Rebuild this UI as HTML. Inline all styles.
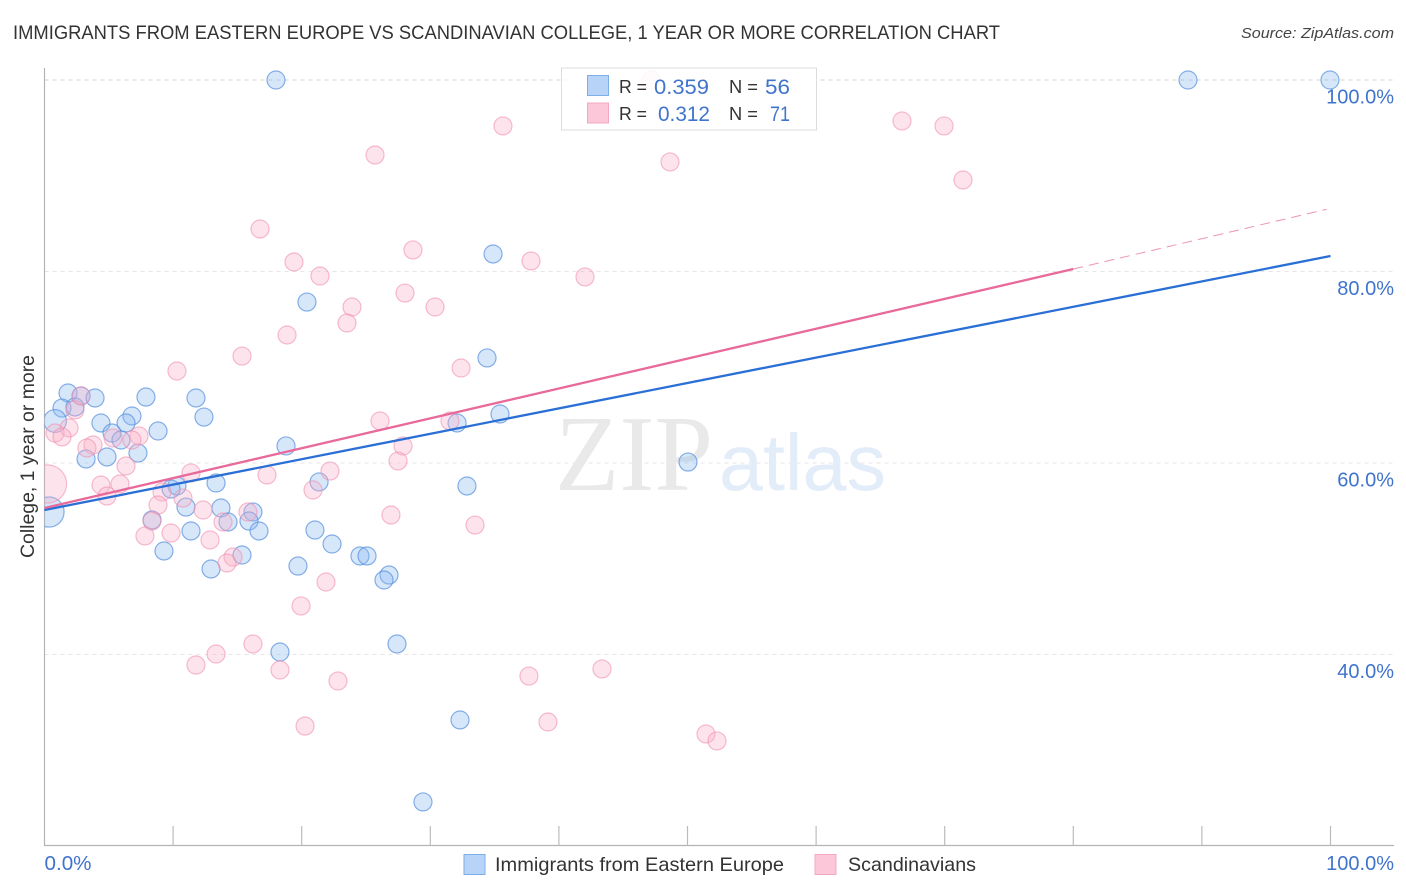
<!DOCTYPE html>
<html lang="en">
<head>
<meta charset="utf-8">
<title>Immigrants from Eastern Europe vs Scandinavian College Correlation Chart</title>
<style>
html,body{margin:0;padding:0;background:#fff;}
body{width:1406px;height:892px;overflow:hidden;}
svg{display:block;font-family:"Liberation Sans",sans-serif;}
</style>
</head>
<body>
<svg id="chart" xmlns="http://www.w3.org/2000/svg" width="1406" height="892" viewBox="0 0 1406 892">
  <defs>
    <clipPath id="plot-clip"><rect x="44.5" y="60" width="1350" height="785"/></clipPath>
  </defs>
  <rect x="0" y="0" width="1406" height="892" fill="#fff"/>
  <text x="13" y="39" font-size="19.5" fill="#333" textLength="987" lengthAdjust="spacingAndGlyphs">IMMIGRANTS FROM EASTERN EUROPE VS SCANDINAVIAN COLLEGE, 1 YEAR OR MORE CORRELATION CHART</text>
  <text x="1241" y="38" font-size="15" font-style="italic" fill="#444" textLength="153" lengthAdjust="spacingAndGlyphs">Source: ZipAtlas.com</text>
  <text transform="translate(34,558) rotate(-90)" font-size="19" fill="#333" textLength="203" lengthAdjust="spacingAndGlyphs">College, 1 year or more</text>

  <g id="grid"></g>

  <g>
    <text x="555" y="490" font-family="'Liberation Serif',serif" font-size="108" fill="#e9e9e9" textLength="158" lengthAdjust="spacingAndGlyphs">ZIP</text>
    <text x="719" y="490" font-size="80" fill="#e3ecf9" textLength="167" lengthAdjust="spacingAndGlyphs">atlas</text>
  </g>

  <g id="axes"></g>
  <g id="points" clip-path="url(#plot-clip)"></g>
  <g id="lines"></g>
  <g id="tick-labels"></g>

  <g>
    <rect x="561.5" y="68" width="255" height="62" fill="#fff" fill-opacity="0.85" stroke="#dcdcdc" stroke-width="1"/>
    <rect x="587.5" y="75.5" width="21" height="20" fill="#b7d4f8" stroke="#7eaee8" stroke-width="1"/>
    <rect x="587.5" y="103" width="21" height="20" fill="#fcc8d9" stroke="#f4a8c0" stroke-width="1"/>
    <text x="619" y="93" font-size="18.5" fill="#333" textLength="28" lengthAdjust="spacingAndGlyphs">R =</text>
    <text x="654" y="94" font-size="21" fill="#4074cc" textLength="55" lengthAdjust="spacingAndGlyphs">0.359</text>
    <text x="729" y="93" font-size="18.5" fill="#333" textLength="29" lengthAdjust="spacingAndGlyphs">N =</text>
    <text x="765" y="94" font-size="21" fill="#4074cc" textLength="25" lengthAdjust="spacingAndGlyphs">56</text>
    <text x="619" y="120" font-size="18.5" fill="#333" textLength="28" lengthAdjust="spacingAndGlyphs">R =</text>
    <text x="658" y="121" font-size="21" fill="#4074cc" textLength="52" lengthAdjust="spacingAndGlyphs">0.312</text>
    <text x="729" y="120" font-size="18.5" fill="#333" textLength="29" lengthAdjust="spacingAndGlyphs">N =</text>
    <text x="770" y="121" font-size="21" fill="#4074cc" textLength="20" lengthAdjust="spacingAndGlyphs">71</text>
  </g>

  <g>
    <rect x="464" y="854.5" width="21" height="20" fill="#b7d4f8" stroke="#7eaee8" stroke-width="1"/>
    <text x="495" y="871" font-size="19.5" fill="#333" textLength="289" lengthAdjust="spacingAndGlyphs">Immigrants from Eastern Europe</text>
    <rect x="815" y="854.5" width="21" height="20" fill="#fcc8d9" stroke="#f4a8c0" stroke-width="1"/>
    <text x="848" y="871" font-size="19.5" fill="#333" textLength="128" lengthAdjust="spacingAndGlyphs">Scandinavians</text>
  </g>
</svg>

<script>
var xTickValues = [0, 10, 20, 30, 40, 50, 60, 70, 80, 90, 100];
var yGridValues = [100, 80, 60, 40];
var yTickLabels = ["100.0%", "80.0%", "60.0%", "40.0%"];
var xEndLabels = ["0.0%", "100.0%"];

var blueX = [18.00,88.92,99.96,34.88,20.41,34.41,1.83,2.84,3.93,7.89,11.78,1.36,2.37,0.82,6.80,12.40,35.42,4.39,6.34,32.08,8.83,5.25,5.95,18.78,7.27,4.86,3.23,50.04,21.35,13.34,10.30,9.84,32.85,11.00,13.72,16.21,14.27,8.36,15.90,11.39,21.03,16.68,22.36,9.29,15.36,24.53,25.08,19.71,12.95,26.79,26.40,27.41,18.31,32.31,29.43,0.35];
var blueY = [100,100,100,81.83,76.81,70.97,67.31,67.00,66.79,66.89,66.79,65.74,65.85,64.39,64.91,64.80,65.12,64.18,64.18,64.18,63.34,63.13,62.40,61.78,61.04,60.63,60.42,60.10,58.02,57.91,57.60,57.28,57.60,55.40,55.30,54.88,53.84,54.05,53.94,52.90,53.00,52.90,51.54,50.81,50.39,50.29,50.29,49.24,48.93,48.30,47.78,41.10,40.26,33.16,24.60,54.88];
var blueWeight = [1,1,1,1,1,1,1,1,1,1,1,1,1,1.6,1,1,1,1,1,1,1,1,1,1,1,1,1,1,1,1,1,1,1,1,1,1,1,1,1,1,1,1,1,1,1,1,1,1,1,1,1,1,1,1,1,2.8];

var pinkX = [47.16,35.65,66.68,69.95,25.70,48.64,71.42,16.76,28.65,19.40,37.83,21.42,42.03,28.03,23.91,30.37,23.52,18.86,15.36,10.30,32.39,2.84,2.37,1.91,0.82,1.36,5.33,7.35,6.80,3.77,3.30,6.34,4.39,5.87,4.86,0.23,11.39,17.30,22.20,27.49,27.88,20.88,9.14,10.77,8.83,12.33,15.82,8.36,13.88,7.81,9.84,12.87,26.94,14.66,14.19,21.89,19.95,33.48,26.09,31.53,16.21,13.34,11.78,18.31,22.82,37.67,43.35,20.26,39.15,51.44,52.29];
var pinkY = [100,95.20,95.72,95.20,92.17,91.44,89.56,84.44,82.25,80.99,81.10,79.53,79.43,77.75,76.29,76.29,74.62,73.37,71.17,69.61,69.92,67.00,65.54,63.66,63.13,62.72,62.61,62.82,62.40,61.88,61.57,59.69,57.70,57.81,56.55,57.81,58.96,58.75,59.16,60.21,61.78,57.18,56.97,56.34,55.61,55.09,54.88,53.94,53.84,52.38,52.69,51.96,54.57,50.18,49.56,47.57,45.07,53.52,64.39,64.39,41.10,40.05,38.90,38.38,37.23,37.75,38.49,32.53,32.95,31.70,30.97];
var pinkWeight = [1,1,1,1,1,1,1,1,1,1,1,1,1,1,1,1,1,1,1,1,1,1,1,1,1,1,1,1,1,1,1,1,1,1,1,4.5,1,1,1,1,1,1,1,1,1,1,1,1,1,1,1,1,1,1,1,1,1,1,1,1,1,1,1,1,1,1,1,1,1,1,1];

var blueTrendX = [0, 100];
var blueTrendY = [55.09, 81.62];
var pinkTrendX = [0, 80];
var pinkTrendY = [55.30, 80.26];
var pinkForecastX = [80, 99.7];
var pinkForecastY = [80.26, 86.5];

var NS = "http://www.w3.org/2000/svg";

function xScale(v) { return 44.5 + v * 12.86; }
function yScale(v) { return 80 + (100 - v) * 9.575; }
function rScale(w) { return 9 * Math.sqrt(w); }

function make(tag, parent, attrs) {
  var el = document.createElementNS(NS, tag);
  for (var k in attrs) { el.setAttribute(k, attrs[k]); }
  parent.appendChild(el);
  return el;
}

var gridG = document.getElementById("grid");
yGridValues.forEach(function (v, i) {
  var line = make("line", gridG, {
    x1: 44.5, x2: 1394, y1: yScale(v), y2: yScale(v),
    stroke: i === 0 ? "#d2d2d2" : "#e6e6e6",
    "stroke-width": 1,
    "stroke-dasharray": "4 4"
  });
  
  
});

var axesG = document.getElementById("axes");
var yAxisLine = make("line", axesG, { x1: 44.5, x2: 44.5, y1: 68, y2: 846, stroke: "#b4b4b4", "stroke-width": 1.2 });


var xAxisLine = make("line", axesG, { x1: 44, x2: 1394, y1: 845.5, y2: 845.5, stroke: "#b4b4b4", "stroke-width": 1.2 });


xTickValues.slice(1).forEach(function (v) {
  var tick = make("line", axesG, { x1: xScale(v), x2: xScale(v), y1: 826, y2: 845.5, stroke: "#bcbcbc", "stroke-width": 1.2 });
  
  
});

var pointsG = document.getElementById("points");
function drawSeries(xs, ys, ws, fill, stroke, strokeOpacity, name) {
  xs.forEach(function (x, i) {
    var c = make("circle", pointsG, {
      cx: xScale(x), cy: yScale(ys[i]), r: rScale(ws[i]),
      fill: fill, "fill-opacity": 0.34,
      stroke: stroke, "stroke-opacity": strokeOpacity, "stroke-width": 1.2
    });
    
    
  });
}
drawSeries(blueX, blueY, blueWeight, "#8ab9f1", "#5a92de", 0.72, "point-immigrants-eastern-europe");
drawSeries(pinkX, pinkY, pinkWeight, "#f9b0c6", "#f08fb0", 0.6, "point-scandinavians");

var linesG = document.getElementById("lines");
var blueLine = make("line", linesG, {
  x1: xScale(blueTrendX[0]), y1: yScale(blueTrendY[0]), x2: xScale(blueTrendX[1]), y2: yScale(blueTrendY[1]),
  stroke: "#2a6fd6", "stroke-width": 2.3
});


var pinkLine = make("line", linesG, {
  x1: xScale(pinkTrendX[0]), y1: yScale(pinkTrendY[0]), x2: xScale(pinkTrendX[1]), y2: yScale(pinkTrendY[1]),
  stroke: "#e8699a", "stroke-width": 2.3
});


var pinkDash = make("line", linesG, {
  x1: xScale(pinkForecastX[0]), y1: yScale(pinkForecastY[0]), x2: xScale(pinkForecastX[1]), y2: yScale(pinkForecastY[1]),
  stroke: "#e8799f", "stroke-width": 1, "stroke-dasharray": "10 6", "stroke-opacity": 0.8
});



var labelsG = document.getElementById("tick-labels");
yGridValues.forEach(function (v, i) {
  var t = make("text", labelsG, { x: 1394, y: yScale(v) + 23.5, "font-size": 20, fill: "#4074cc", "text-anchor": "end" });
  
  
  t.textContent = yTickLabels[i];
});
var xLabelLeft = make("text", labelsG, { x: xScale(xTickValues[0]), y: 870, "font-size": 20, fill: "#4074cc", textLength: 47, lengthAdjust: "spacingAndGlyphs" });


xLabelLeft.textContent = xEndLabels[0];
var xLabelRight = make("text", labelsG, { x: 1394, y: 870, "font-size": 20, fill: "#4074cc", "text-anchor": "end" });


xLabelRight.textContent = xEndLabels[1];
</script>
</body>
</html>
